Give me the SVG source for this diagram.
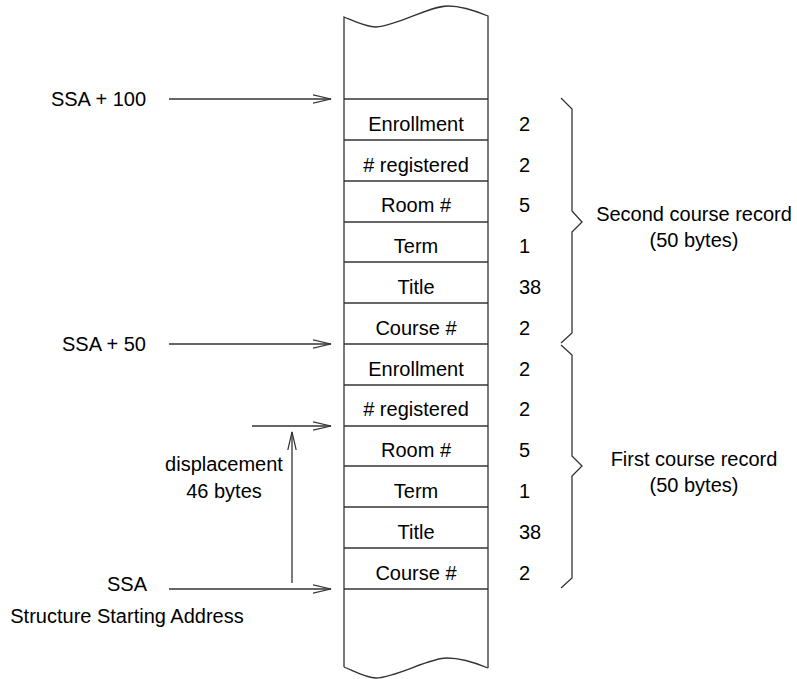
<svg xmlns="http://www.w3.org/2000/svg" width="797" height="679" viewBox="0 0 797 679">
<style>
text{font-family:"Liberation Sans",Arial,sans-serif;font-size:20px;fill:#000}
.c{text-anchor:middle}
.e{text-anchor:end}
.ln{stroke:#333;stroke-width:1.3;fill:none}
</style>
<defs>
<marker id="ah" markerWidth="20" markerHeight="12" refX="18" refY="5" orient="auto" markerUnits="userSpaceOnUse">
<path d="M0,0.8 L18,5 L0,9.2" fill="none" stroke="#333" stroke-width="1.2"/>
</marker>
</defs>
<g id="memory">
<path class="ln" d="M344,667 L344,17 C356,22 366,27 376,27 C398,26 428,6 448,6 C462,6 476,11 488,16 L488,668"/>
<path class="ln" d="M344,667 C356,672 366,678 376,678 C398,677 428,658 447,658 C462,658 476,663 488,668"/>
<g class="ln">
<line x1="344" y1="99" x2="488" y2="99"/>
<line x1="344" y1="140" x2="488" y2="140"/>
<line x1="344" y1="181" x2="488" y2="181"/>
<line x1="344" y1="222" x2="488" y2="222"/>
<line x1="344" y1="262" x2="488" y2="262"/>
<line x1="344" y1="303" x2="488" y2="303"/>
<line x1="344" y1="344" x2="488" y2="344"/>
<line x1="344" y1="385" x2="488" y2="385"/>
<line x1="344" y1="426" x2="488" y2="426"/>
<line x1="344" y1="466" x2="488" y2="466"/>
<line x1="344" y1="507" x2="488" y2="507"/>
<line x1="344" y1="548" x2="488" y2="548"/>
<line x1="344" y1="589" x2="488" y2="589"/>
</g>
</g>
<g id="fields">
<text class="c" x="416" y="131">Enrollment</text>
<text class="c" x="416" y="172"># registered</text>
<text class="c" x="416" y="212">Room #</text>
<text class="c" x="416" y="253">Term</text>
<text class="c" x="416" y="294">Title</text>
<text class="c" x="416" y="335">Course #</text>
<text class="c" x="416" y="376">Enrollment</text>
<text class="c" x="416" y="416"># registered</text>
<text class="c" x="416" y="457">Room #</text>
<text class="c" x="416" y="498">Term</text>
<text class="c" x="416" y="539">Title</text>
<text class="c" x="416" y="580">Course #</text>
</g>
<g id="sizes">
<text x="519" y="131">2</text>
<text x="519" y="172">2</text>
<text x="519" y="212">5</text>
<text x="519" y="253">1</text>
<text x="519" y="294">38</text>
<text x="519" y="335">2</text>
<text x="519" y="376">2</text>
<text x="519" y="416">2</text>
<text x="519" y="457">5</text>
<text x="519" y="498">1</text>
<text x="519" y="539">38</text>
<text x="519" y="580">2</text>
</g>
<g id="second-record">
<path class="ln" d="M561,98 L572,109 L572,211 L582,222 L572,232 L572,333 L561,343"/>
<text class="c" x="694" y="221">Second course record</text>
<text class="c" x="694" y="247">(50 bytes)</text>
</g>
<g id="first-record">
<path class="ln" d="M561,345 L572,355 L572,456 L582,466 L572,476 L572,578 L561,588"/>
<text class="c" x="694" y="466">First course record</text>
<text class="c" x="694" y="492">(50 bytes)</text>
</g>
<g id="labels">
<text class="e" x="146" y="106">SSA + 100</text>
<text class="e" x="146" y="351">SSA + 50</text>
<text class="c" x="224" y="471">displacement</text>
<text class="c" x="224" y="498">46 bytes</text>
<text class="c" x="127" y="591">SSA</text>
<text class="c" x="127" y="623">Structure Starting Address</text>
</g>
<g id="connectors" class="ln">
<line x1="169" y1="99" x2="331" y2="99" marker-end="url(#ah)"/>
<line x1="169" y1="344" x2="331" y2="344" marker-end="url(#ah)"/>
<line x1="252" y1="426" x2="331" y2="426" marker-end="url(#ah)"/>
<line x1="169" y1="589" x2="331" y2="589" marker-end="url(#ah)"/>
<line x1="292" y1="583" x2="292" y2="432" marker-end="url(#ah)"/>
</g>
</svg>
